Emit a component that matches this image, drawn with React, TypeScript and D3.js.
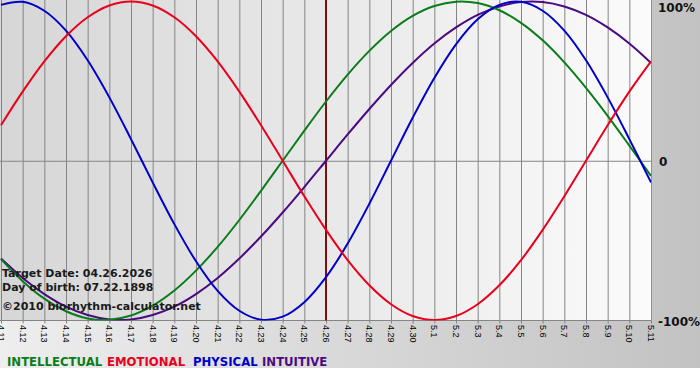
import React from "react";
import * as d3 from "d3";

const dayLabels = [
  "4.11","4.12","4.13","4.14","4.15","4.16","4.17","4.18","4.19","4.20",
  "4.21","4.22","4.23","4.24","4.25","4.26","4.27","4.28","4.29","4.30",
  "5.1","5.2","5.3","5.4","5.5","5.6","5.7","5.8","5.9","5.10","5.11",
];

const intellectual = [
  -0.618,-0.756,-0.866,-0.945,-0.990,-0.999,-0.972,-0.910,-0.815,-0.690,
  -0.541,-0.372,-0.189,0,0.189,0.372,0.541,0.690,0.815,0.910,
  0.972,0.999,0.990,0.945,0.866,0.756,0.618,0.458,0.282,0.095,-0.095,
];
const emotional = [
  0.223,0.434,0.624,0.782,0.901,0.975,1,0.975,0.901,0.782,
  0.624,0.434,0.223,0,-0.223,-0.434,-0.624,-0.782,-0.901,-0.975,
  -1,-0.975,-0.901,-0.782,-0.624,-0.434,-0.223,0,0.223,0.434,0.624,
];
const physical = [
  0.979,0.998,0.942,0.817,0.631,0.398,0.136,-0.136,-0.398,-0.631,
  -0.817,-0.942,-0.998,-0.979,-0.888,-0.731,-0.520,-0.270,0,0.270,
  0.520,0.731,0.888,0.979,0.998,0.942,0.817,0.631,0.398,0.136,-0.136,
];
const intuitive = [
  -0.614,-0.736,-0.837,-0.916,-0.969,-0.997,-0.997,-0.969,-0.916,-0.837,
  -0.736,-0.614,-0.476,-0.325,-0.165,0,0.165,0.325,0.476,0.614,
  0.736,0.837,0.916,0.969,0.997,0.997,0.969,0.916,0.837,0.736,0.614,
];

const seriesNames = ["INTELLECTUAL", "EMOTIONAL", "PHYSICAL", "INTUITIVE"];
const seriesColors = ["#0a7d1a", "#e8001c", "#0000c8", "#4b0a82"];
const yTickLabels = ["100%", "0", "-100%"];
const targetIndex = 15;
const infoLines = [
  "Target Date: 04.26.2026",
  "Day of birth: 07.22.1898",
  "\u00a92010 biorhythm-calculator.net",
];

export default function App() {
  const W = 700, H = 380;
  const x = d3.scaleLinear().domain([0, dayLabels.length - 1]).range([1, 651]);
  const y = d3.scaleLinear().domain([-1, 1]).range([320, 1.5]);
  const plotTop = 0, plotBottom = 320.5, plotLeft = 0, plotRight = 651.5;

  const allSeries = [intellectual, emotional, physical, intuitive];
  const line = d3
    .line<number>()
    .x((_, i) => x(i))
    .y((d) => y(d))
    .curve(d3.curveCatmullRom.alpha(0.5));

  const drawOrder = [3, 0, 2, 1];
  const legendX = [7, 107, 193, 262];
  const infoY = [276.5, 291, 310];
  const yLabelBase = [11.5, 166, 326];
  const yLabelX = [658, 659, 658];

  return (
    <div style={{ position: "fixed", left: 0, top: 0 }}>
      <svg width={W} height={H} style={{ display: "block" }}>
        <defs>
          <linearGradient id="bg" x1="0" y1="0" x2="1" y2="0">
            <stop offset="0" stopColor="#eeeeee" />
            <stop offset="1" stopColor="#c2c2c2" />
          </linearGradient>
          <linearGradient id="plotbg" x1="0" y1="0" x2="1" y2="0">
            <stop offset="0" stopColor="#d6d6d6" />
            <stop offset="1" stopColor="#fbfbfb" />
          </linearGradient>
          <clipPath id="plotclip">
            <rect x={plotLeft} y={plotTop} width={plotRight - plotLeft} height={plotBottom - plotTop} />
          </clipPath>
        </defs>
        <rect x={0} y={0} width={W} height={368} fill="url(#bg)" />
        <rect x={0} y={368} width={W} height={12} fill="#ffffff" />
        <rect x={plotLeft} y={plotTop} width={plotRight - plotLeft} height={plotBottom - plotTop} fill="url(#plotbg)" />

        {dayLabels.map((lab, i) => (
          <g key={lab}>
            <line x1={x(i) + 0.5} x2={x(i) + 0.5} y1={plotTop} y2={plotBottom + 3} stroke="#858585" strokeWidth={1} />
            <text
              transform={`translate(${x(i)},${325}) rotate(90)`}
              dy="0.35em"
              fontFamily="Liberation Sans, Arial, sans-serif"
              fontSize={9}
              fill="#000"
            >
              {lab}
            </text>
          </g>
        ))}
        <line x1={plotLeft} x2={plotRight} y1={y(0) + 0.5} y2={y(0) + 0.5} stroke="#858585" strokeWidth={1} />
        <line x1={plotLeft} x2={plotRight} y1={plotBottom} y2={plotBottom} stroke="#858585" strokeWidth={1} />
        <line x1={plotRight} x2={plotRight} y1={plotTop} y2={plotBottom} stroke="#909090" strokeWidth={1} />

        <line x1={x(targetIndex)} x2={x(targetIndex)} y1={plotTop} y2={plotBottom} stroke="#7a1010" strokeWidth={2} />

        <g clipPath="url(#plotclip)">
          {drawOrder.map((si) => (
            <path
              key={si}
              d={line(allSeries[si]) || ""}
              fill="none"
              stroke={seriesColors[si]}
              strokeWidth={2}
            />
          ))}
        </g>

        {infoLines.map((t, i) => (
          <text
            key={i}
            x={2}
            y={infoY[i]}
            fontFamily="DejaVu Sans, Verdana, sans-serif"
            fontWeight="bold"
            fontSize={11}
            fill="#1a1a1a"
          >
            {t}
          </text>
        ))}

        {yTickLabels.map((t, i) => (
          <text
            key={i}
            x={yLabelX[i]}
            y={yLabelBase[i]}
            fontFamily="DejaVu Sans, Verdana, sans-serif"
            fontWeight="bold"
            fontSize={12}
            fill="#111"
          >
            {t}
          </text>
        ))}

        {seriesNames.map((n, i) => (
          <text
            key={n}
            x={legendX[i]}
            y={366}
            fontFamily="DejaVu Sans, Verdana, sans-serif"
            fontWeight="bold"
            fontSize={11.7}
            fill={seriesColors[i]}
          >
            {n}
          </text>
        ))}
      </svg>
    </div>
  );
}
